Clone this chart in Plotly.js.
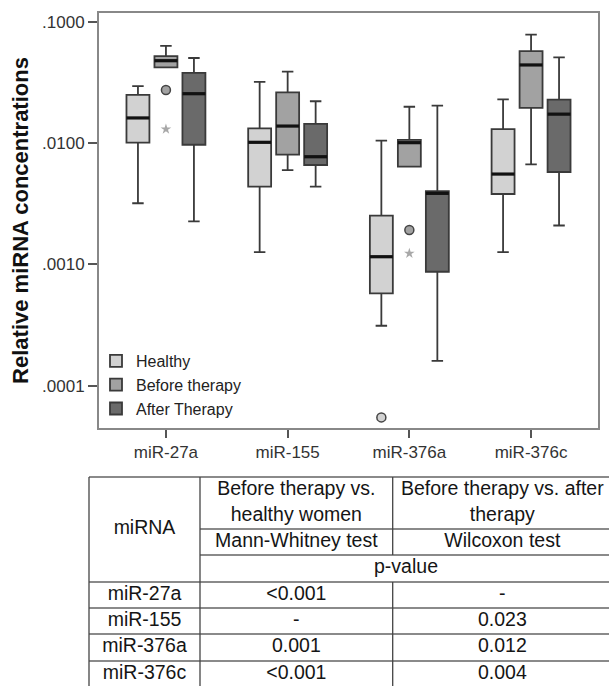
<!DOCTYPE html>
<html><head><meta charset="utf-8">
<script src="https://cdn.plot.ly/plotly-3.0.1.min.js"></script>
<style>html,body{margin:0;padding:0;background:#fff}#chart{width:609px;height:686px}</style>
</head><body><div id="chart"></div>
<script>
// ---------- data ----------
const categories = ['miR-27a', 'miR-155', 'miR-376a', 'miR-376c'];
const groups = ['Healthy', 'Before therapy', 'After Therapy'];

const healthyLower  = [0.00319, 0.00126, 0.000312, 0.00126];
const healthyQ1     = [0.01006, 0.00437, 0.000577, 0.00380];
const healthyMedian = [0.0161, 0.01014, 0.001156, 0.00555];
const healthyQ3     = [0.0249, 0.0132, 0.00252, 0.0130];
const healthyUpper  = [0.0295, 0.0319, 0.01045, 0.0229];

const beforeLower  = [0.0421, 0.00599, 0.00638, 0.00667];
const beforeQ1     = [0.0421, 0.00802, 0.00638, 0.0195];
const beforeMedian = [0.0477, 0.0138, 0.01007, 0.0440];
const beforeQ3     = [0.0521, 0.0262, 0.0106, 0.0573];
const beforeUpper  = [0.0631, 0.0387, 0.0199, 0.0782];

const afterLower  = [0.00226, 0.00437, 0.000160, 0.00209];
const afterQ1     = [0.00968, 0.00659, 0.000869, 0.00577];
const afterMedian = [0.0255, 0.00771, 0.00385, 0.0173];
const afterQ3     = [0.0378, 0.01436, 0.00402, 0.0228];
const afterUpper  = [0.0502, 0.0221, 0.0203, 0.0508];

// outliers (circles) and extreme values (stars)
const outlierCategory = ['miR-27a', 'miR-376a', 'miR-376a'];
const outlierGroup    = ['Before therapy', 'Before therapy', 'Healthy'];
const outlierValue    = [0.0274, 0.00192, 0.0000548];

const extremeCategory = ['miR-27a', 'miR-376a'];
const extremeGroup    = ['Before therapy', 'Before therapy'];
const extremeValue    = [0.0130, 0.00123];

const yTickVals = [0.0001, 0.001, 0.01, 0.1];
const yTickText = ['.0001', '.0010', '.0100', '.1000'];

// table
const tableColumnHeaders = ['miRNA', 'Before therapy vs.<br>healthy women', 'Before therapy vs. after<br>therapy'];
const tableTestNames = ['Mann-Whitney test', 'Wilcoxon test'];
const tablePLabel = 'p-value';
const tableMiRNA = ['miR-27a', 'miR-155', 'miR-376a', 'miR-376c'];
const mannWhitneyP = ['<0.001', '-', '0.001', '<0.001'];
const wilcoxonP = ['-', '0.023', '0.012', '0.004'];

// ---------- styles / layout constants ----------
const FONT = 'Liberation Sans, Arial, sans-serif';
const groupColors = ['#d2d2d2', '#a2a2a2', '#6a6a6a'];
const BOXGAP = 0.31, BOXGROUPGAP = 0.18;
const slot = (1 - BOXGAP) / 3;
const halfW = slot * (1 - BOXGROUPGAP) / 2;
const groupOffset = gi => (gi - 1) * slot;
const xRange = [-0.55, 3.55];

const stats = [
  [healthyLower, healthyQ1, healthyMedian, healthyQ3, healthyUpper],
  [beforeLower, beforeQ1, beforeMedian, beforeQ3, beforeUpper],
  [afterLower, afterQ1, afterMedian, afterQ3, afterUpper]
];

const traces = [];
groups.forEach((g, gi) => {
  const s = stats[gi];
  traces.push({
    type: 'box', name: g, x: categories,
    lowerfence: s[0], q1: s[1], median: s[2], q3: s[3], upperfence: s[4],
    fillcolor: groupColors[gi],
    line: {color: '#3a3a3a', width: 1.8},
    whiskerwidth: 0.5, boxpoints: false,
    xaxis: 'x', yaxis: 'y'
  });
});

// thick median lines
const mx = [], my = [];
groups.forEach((g, gi) => {
  const med = stats[gi][2];
  categories.forEach((c, ci) => {
    const cx = ci + groupOffset(gi);
    mx.push(cx - halfW, cx + halfW, null);
    my.push(med[ci], med[ci], null);
  });
});
traces.push({type: 'scatter', mode: 'lines', x: mx, y: my, xaxis: 'x2', yaxis: 'y',
  line: {color: '#111', width: 3.2}, showlegend: false, hoverinfo: 'skip'});

traces.push({type: 'scatter', mode: 'markers',
  x: outlierCategory.map((c, i) => categories.indexOf(c) + groupOffset(groups.indexOf(outlierGroup[i]))),
  y: outlierValue, xaxis: 'x2', yaxis: 'y', showlegend: false,
  marker: {symbol: 'circle', size: 9,
    color: outlierGroup.map(g => groupColors[groups.indexOf(g)]),
    line: {color: '#444', width: 1.5}}});

traces.push({type: 'scatter', mode: 'markers',
  x: extremeCategory.map((c, i) => categories.indexOf(c) + groupOffset(groups.indexOf(extremeGroup[i]))),
  y: extremeValue, xaxis: 'x2', yaxis: 'y', showlegend: false,
  marker: {symbol: 'star', size: 8, color: '#a8a8a8', line: {width: 0}}});

// ---------- table ----------
const colEdges = [0, 111, 303.7, 523];
const rowEdges = [0, 52, 78, 105, 131, 157, 184, 210];
const mid = (a, b) => (a + b) / 2;
const tx = [], ty = [], tt = [];
function cell(text, c0, c1, r0, r1) {
  tx.push(mid(colEdges[c0], colEdges[c1]));
  ty.push(mid(rowEdges[r0], rowEdges[r1]));
  tt.push(text);
}
cell(tableColumnHeaders[0], 0, 1, 0, 3);
cell(tableColumnHeaders[1], 1, 2, 0, 1);
cell(tableColumnHeaders[2], 2, 3, 0, 1);
cell(tableTestNames[0], 1, 2, 1, 2);
cell(tableTestNames[1], 2, 3, 1, 2);
cell(tablePLabel, 1, 3, 2, 3);
tableMiRNA.forEach((m, i) => {
  cell(m, 0, 1, 3 + i, 4 + i);
  cell(mannWhitneyP[i], 1, 2, 3 + i, 4 + i);
  cell(wilcoxonP[i], 2, 3, 3 + i, 4 + i);
});
traces.push({type: 'scatter', mode: 'text', x: tx, y: ty, text: tt,
  textposition: 'middle center', xaxis: 'x3', yaxis: 'y3', showlegend: false,
  hoverinfo: 'skip', cliponaxis: false,
  textfont: {family: FONT, size: 19.5, color: '#151515'}});

const shapes = [];
const hLine = (y, x0, x1) => shapes.push({type: 'line', xref: 'x3', yref: 'y3', x0: x0, x1: x1, y0: y, y1: y,
  line: {color: '#8a8a8a', width: 2}});
const vLine = (x, y0, y1) => shapes.push({type: 'line', xref: 'x3', yref: 'y3', x0: x, x1: x, y0: y0, y1: y1,
  line: {color: '#444', width: 1.3}});
hLine(rowEdges[0], colEdges[0], colEdges[3]);
hLine(rowEdges[1], colEdges[1], colEdges[3]);
hLine(rowEdges[2], colEdges[1], colEdges[3]);
for (let r = 3; r < rowEdges.length; r++) hLine(rowEdges[r], colEdges[0], colEdges[3]);
vLine(colEdges[0], rowEdges[0], rowEdges[7]);
vLine(colEdges[1], rowEdges[0], rowEdges[7]);
vLine(colEdges[2], rowEdges[0], rowEdges[2]);
vLine(colEdges[2], rowEdges[3], rowEdges[7]);

const W = 609, H = 686;
const layout = {
  width: W, height: H,
  margin: {l: 0, r: 0, t: 0, b: 0},
  paper_bgcolor: '#fff', plot_bgcolor: '#fff',
  font: {family: FONT, color: '#333'},
  boxmode: 'group', boxgap: BOXGAP, boxgroupgap: BOXGROUPGAP,
  showlegend: true,
  legend: {x: 96 / W, y: 1 - 344 / H, xanchor: 'left', yanchor: 'top',
    bgcolor: 'rgba(0,0,0,0)', font: {size: 16, color: '#222', family: FONT}, traceorder: 'normal'},
  xaxis: {domain: [99 / W, 598 / W], type: 'category', categoryorder: 'array', categoryarray: categories,
    range: xRange, anchor: 'y', showline: true, mirror: true, linecolor: '#888', linewidth: 2,
    ticks: 'outside', ticklen: 8, tickwidth: 2, tickcolor: '#555', showgrid: false, zeroline: false,
    tickfont: {size: 17, color: '#333'}, automargin: false},
  xaxis2: {domain: [99 / W, 598 / W], overlaying: 'x', range: xRange, visible: false, anchor: 'y'},
  yaxis: {domain: [1 - 428 / H, 1 - 13 / H], type: 'log', range: [-4.3486, -0.9283], anchor: 'x',
    tickmode: 'array', tickvals: yTickVals, ticktext: yTickText,
    showline: true, mirror: true, linecolor: '#888', linewidth: 2,
    ticks: 'outside', ticklen: 9, tickwidth: 2, tickcolor: '#555', showgrid: false, zeroline: false,
    tickfont: {size: 17, color: '#333'}, automargin: false,
    title: {text: 'Relative miRNA concentrations', standoff: 7,
      font: {size: 22, weight: 700, color: '#111', family: FONT}}},
  xaxis3: {domain: [0, 1], range: [-89, 520], anchor: 'y3', visible: false, fixedrange: true},
  yaxis3: {domain: [0, 0.32], range: [209.02, -10.5], anchor: 'x3', visible: false, fixedrange: true},
  shapes: shapes
};

Plotly.newPlot('chart', traces, layout, {displayModeBar: false, staticPlot: true});
</script>
</body></html>
